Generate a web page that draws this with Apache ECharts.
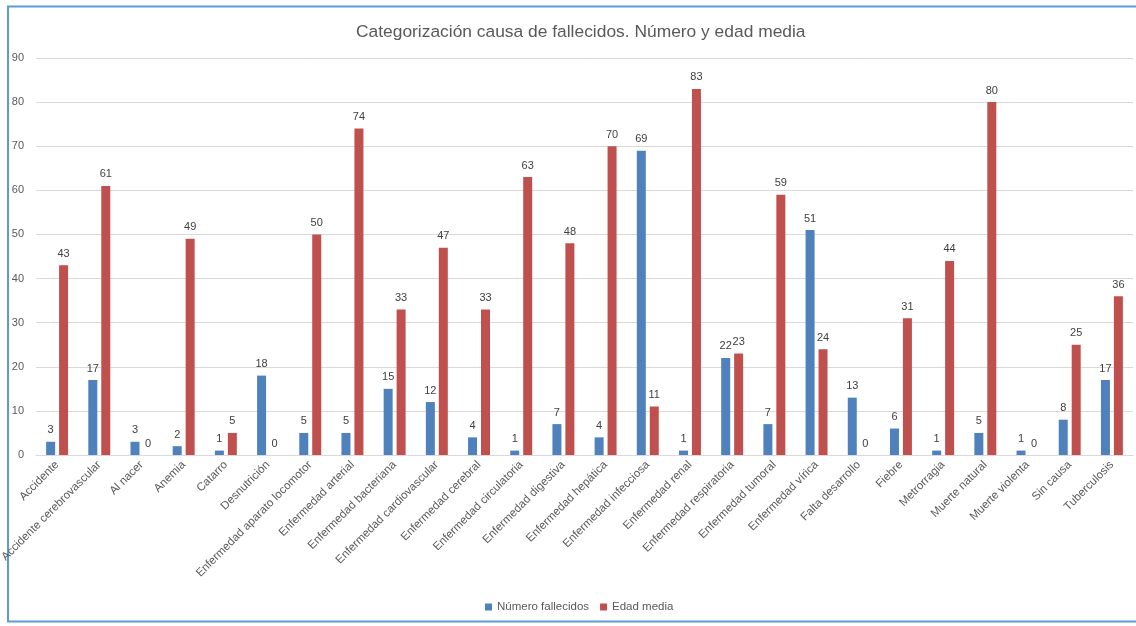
<!DOCTYPE html>
<html>
<head>
<meta charset="utf-8">
<script src="https://cdn.jsdelivr.net/npm/echarts@6/dist/echarts.min.js"></script>
<style>html,body{margin:0;padding:0;background:#fff;}#c{width:1136px;height:626px;}</style>
</head>
<body>
<div id="c"></div>
<script>
const categories = ["Accidente","Accidente cerebrovascular","Al nacer","Anemia","Catarro","Desnutrición","Enfermedad aparato locomotor","Enfermedad arterial","Enfermedad bacteriana","Enfermedad cardiovascular","Enfermedad cerebral","Enfermedad circulatoria","Enfermedad digestiva","Enfermedad hepática","Enfermedad infecciosa","Enfermedad renal","Enfermedad respiratoria","Enfermedad tumoral","Enfermedad vírica","Falta desarrollo","Fiebre","Metrorragia","Muerte natural","Muerte violenta","Sin causa","Tuberculosis"];
const numeroFallecidos = [3,17,3,2,1,18,5,5,15,12,4,1,7,4,69,1,22,7,51,13,6,1,5,1,8,17];
const edadMedia = [43,61,0,49,5,0,50,74,33,47,33,63,48,70,11,83,23,59,24,0,31,44,80,0,25,36];
const yTicks = {min:0, max:90, interval:10};

const font = "'Liberation Sans', Arial, sans-serif";
const chart = echarts.init(document.getElementById('c'), null, {renderer:'canvas'});
chart.setOption({
  backgroundColor:'#fff',
  animation:false,
  title:{text:'Categorización causa de fallecidos. Número y edad media', left:351, top:19,
    textStyle:{fontFamily:font, fontSize:17.4, fontWeight:'normal', color:'#595959'}},
  legend:{bottom:8, left:480, itemWidth:7, itemHeight:7, itemGap:11, icon:'rect',
    textStyle:{fontFamily:font, fontSize:11.5, color:'#595959'}},
  grid:{left:36, right:3, top:58, bottom:171, containLabel:false, outerBoundsMode:'none'},
  xAxis:{type:'category', data:categories,
    axisLine:{lineStyle:{color:'#d9d9d9', width:1}},
    axisTick:{show:false},
    axisLabel:{rotate:45, interval:0, fontFamily:font, fontSize:11.5, color:'#595959', margin:8}},
  yAxis:{type:'value', min:yTicks.min, max:yTicks.max, interval:yTicks.interval,
    axisLine:{show:false}, axisTick:{show:false},
    splitLine:{lineStyle:{color:'#d9d9d9'}},
    axisLabel:{fontFamily:font, fontSize:11, color:'#595959', margin:12}},
  series:[
    {name:'Número fallecidos', type:'bar', data:numeroFallecidos, barWidth:9, barGap:'44%',
      itemStyle:{color:'#4F81BD'},
      label:{show:true, position:'top', distance:6, fontFamily:font, fontSize:11, color:'#404040'}},
    {name:'Edad media', type:'bar', data:edadMedia, barWidth:9, barGap:'44%',
      itemStyle:{color:'#C0504D'},
      label:{show:true, position:'top', distance:6, fontFamily:font, fontSize:11, color:'#404040'}}
  ],
  graphic:[{type:'rect', shape:{x:8, y:6.5, width:1140, height:615}, style:{fill:'none', stroke:'#5B9BD5', lineWidth:2}, silent:true}]
});
</script>
</body>
</html>
